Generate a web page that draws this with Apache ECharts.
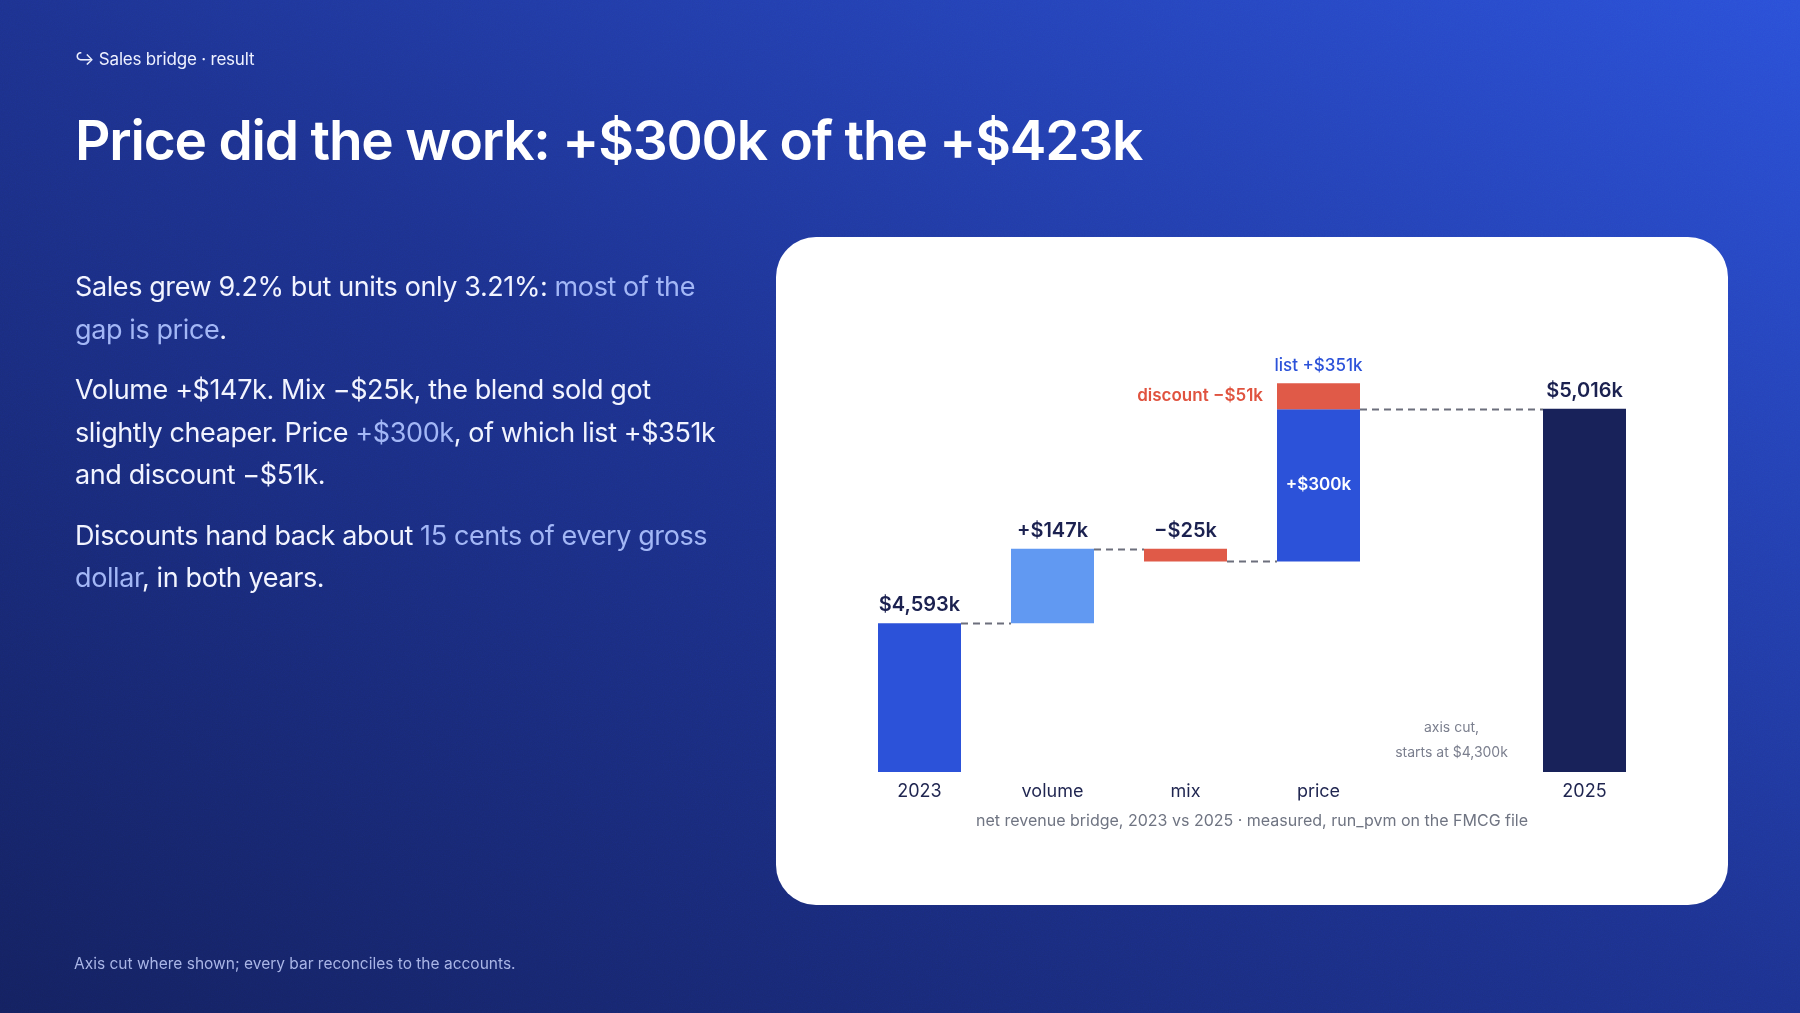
<!DOCTYPE html>
<html>
<head>
<meta charset="utf-8">
<title>Sales bridge</title>
<script src="https://cdn.jsdelivr.net/npm/echarts@6/dist/echarts.min.js"></script>
<style>
  html, body { margin: 0; padding: 0; width: 1800px; height: 1013px; overflow: hidden; }
  body {
    position: relative;
    font-family: Inter, "Noto Sans", sans-serif;
    color: #fff;
    background: linear-gradient(to top right, #142160 0%, #1d3290 50%, #2b50d8 100%);
  }
  .noise {
    position: absolute; left: 0; top: 0; width: 1800px; height: 1013px; z-index: 0;
    background-image: url("data:image/svg+xml;utf8,<svg xmlns='http://www.w3.org/2000/svg' width='240' height='240'><filter id='n'><feTurbulence type='fractalNoise' baseFrequency='0.85' numOctaves='2' stitchTiles='stitch'/></filter><rect width='100%' height='100%' filter='url(%23n)'/></svg>");
    opacity: 0.14;
    mix-blend-mode: overlay;
  }
  .kicker { position: absolute; left: 75px; top: 51px; font-size: 17px; line-height: 1; color: #eef1ff; z-index: 1; letter-spacing: -0.2px; }
  .title { position: absolute; left: 75px; top: 113px; font-size: 55px; line-height: 1; font-weight: 600; letter-spacing: -1.2px; white-space: nowrap; z-index: 1; }
  .body { position: absolute; left: 75px; top: 266px; font-size: 27px; line-height: 42.5px; color: #f2f4ff; white-space: nowrap; z-index: 1; letter-spacing: -0.4px; }
  .body p { margin: 0 0 18px 0; }
  .hl { color: #a3b7f6; }
  .foot { position: absolute; left: 74px; top: 956px; font-size: 15.5px; line-height: 1; color: #a9b5e6; z-index: 1; }
  #chart { position: absolute; left: 776px; top: 237px; width: 952px; height: 668px; background: #fff; border-radius: 40px; overflow: hidden; z-index: 1; }
</style>
</head>
<body>
<div class="noise"></div>
<div class="kicker">↪ Sales bridge · result</div>
<div class="title">Price did the work: +$300k of the +$423k</div>
<div class="body">
  <p>Sales grew 9.2% but units only 3.21%: <span class="hl">most of the</span><br><span class="hl">gap is price</span>.</p>
  <p>Volume +$147k. Mix −$25k, the blend sold got<br>slightly cheaper. Price <span class="hl">+$300k</span>, of which list +$351k<br>and discount −$51k.</p>
  <p>Discounts hand back about <span class="hl">15 cents of every gross</span><br><span class="hl">dollar</span>, in both years.</p>
</div>
<div class="foot">Axis cut where shown; every bar reconciles to the accounts.</div>
<div id="chart"></div>

<script>
// 数据
var categories = ['2023', 'volume', 'mix', 'price', '', '2025'];
var totalValues = [4593, null, null, null, null, 5016];
var stepValues = [null, 147, -25, 300, null, null];
var listValue = 351;
var discountValue = -51;
var axisMin = 4300;
var axisMax = 5100;

(function () {
  var myChart = echarts.init(document.getElementById('chart'));

  var blue = '#2c52d9', light = '#6199f2', red = '#e05a48', navy = '#18225a', ink = '#1b2150';
  var barWidth = 83;
  var font = 'Inter, "Noto Sans", sans-serif';

  function money(v) { return '$' + Math.abs(v).toLocaleString('en-US') + 'k'; }
  function signed(v) { return (v < 0 ? '\u2212' : '+') + money(v); }

  // 瀑布图：透明底座 + 可见段
  var baseData = [], totalData = [], stepData = [], discData = [], links = [];
  var level = 0, prevIdx = -1;
  categories.forEach(function (c, i) {
    var total = totalValues[i], step = stepValues[i];
    if (total != null) {
      baseData.push('-');
      totalData.push({ value: total, itemStyle: { color: i === 0 ? blue : navy } });
      stepData.push('-');
      discData.push('-');
      if (prevIdx >= 0) links.push([prevIdx, i, level]);
      level = total; prevIdx = i;
    } else if (step != null) {
      var isPrice = c === 'price';
      var low = step < 0 ? level + step : level;
      if (prevIdx >= 0) links.push([prevIdx, i, level]);
      baseData.push(low);
      totalData.push('-');
      stepData.push({
        value: Math.abs(step),
        itemStyle: { color: step < 0 ? red : (isPrice ? blue : light) },
        label: isPrice
          ? { show: true, position: 'inside', color: '#fff', fontSize: 17, fontWeight: 600, formatter: signed(step) }
          : { show: true, position: 'top', distance: 8, color: ink, fontSize: 20, fontWeight: 600, formatter: signed(step) }
      });
      discData.push(isPrice ? Math.abs(discountValue) : '-');
      level = level + step; prevIdx = i;
    } else {
      baseData.push('-'); totalData.push('-'); stepData.push('-'); discData.push('-');
    }
  });
  var priceIdx = categories.indexOf('price');
  var listTop = baseData[priceIdx] + listValue;

  var option = {
    animation: false,
    textStyle: { fontFamily: font },
    grid: { left: 77, right: 77, top: 129, bottom: 133, containLabel: false },
    xAxis: {
      type: 'category',
      data: categories,
      axisLine: { show: false },
      axisTick: { show: false },
      axisLabel: { color: '#1f2550', fontSize: 18, margin: 11, fontFamily: font }
    },
    yAxis: {
      type: 'value',
      min: axisMin,
      max: axisMax,
      show: false
    },
    series: [
      {
        name: 'base', type: 'bar', stack: 'w', barWidth: barWidth, clip: true,
        itemStyle: { color: 'transparent' },
        data: baseData
      },
      {
        name: 'total', type: 'bar', stack: 'w', barWidth: barWidth, clip: true,
        label: {
          show: true, position: 'top', distance: 8, color: ink, fontSize: 20, fontWeight: 600,
          formatter: function (p) { return money(p.value); }
        },
        data: totalData
      },
      {
        name: 'step', type: 'bar', stack: 'w', barWidth: barWidth, clip: true,
        data: stepData
      },
      {
        name: 'discount', type: 'bar', stack: 'w', barWidth: barWidth, clip: true,
        itemStyle: { color: red },
        label: {
          show: true, position: 'left', distance: 14, color: '#e0533f', fontSize: 17, fontWeight: 600,
          formatter: 'discount ' + signed(discountValue)
        },
        markPoint: {
          symbol: 'rect', symbolSize: 0, silent: true,
          label: {
            show: true, position: 'top', distance: 9, color: blue, fontSize: 17, fontWeight: 500,
            formatter: 'list ' + signed(listValue)
          },
          data: [{ coord: [priceIdx, listTop] }]
        },
        data: discData
      },
      {
        name: 'links', type: 'custom', silent: true,
        encode: { x: [0, 1], y: 2 },
        renderItem: function (params, api) {
          var p1 = api.coord([api.value(0), api.value(2)]);
          var p2 = api.coord([api.value(1), api.value(2)]);
          var half = barWidth / 2;
          return {
            type: 'line',
            shape: { x1: p1[0] + half, y1: Math.round(p1[1]) + 0.5, x2: p2[0] - half, y2: Math.round(p2[1]) + 0.5 },
            style: { stroke: '#6c6f7c', lineWidth: 2, lineDash: [7, 5] }
          };
        },
        data: links
      }
    ]
  };

  myChart.setOption(option);

  // 轴截断说明 + 图注
  var cut = myChart.convertToPixel({ gridIndex: 0 }, [4, axisMin]);
  myChart.setOption({
    graphic: [
      {
        type: 'text', left: 'center', top: 576,
        style: {
          text: 'net revenue bridge, 2023 vs 2025 · measured, run_pvm on the FMCG file',
          fill: '#6f7482', fontSize: 16, fontFamily: font
        }
      },
      {
        type: 'text', x: cut[0], y: cut[1] - 7,
        style: {
          text: 'axis cut,\nstarts at ' + money(axisMin),
          fill: '#7b7f8e', fontSize: 14, lineHeight: 25, fontFamily: font,
          align: 'center', verticalAlign: 'bottom'
        }
      }
    ]
  });

  window.addEventListener('resize', function () {
    myChart.resize();
  });
})();
</script>
</body>
</html>
